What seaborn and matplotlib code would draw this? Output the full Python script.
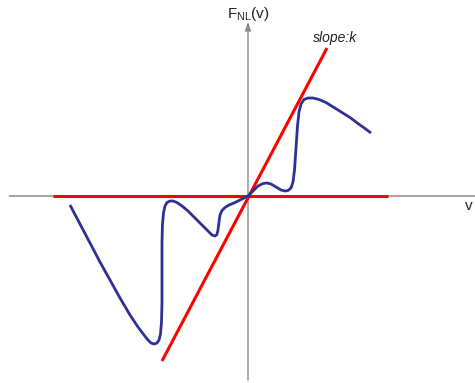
import matplotlib
matplotlib.use("Agg")
import matplotlib.pyplot as plt
import seaborn as sns
import pandas as pd

sns.set_style("white")
plt.rcParams["font.family"] = ["Liberation Sans", "DejaVu Sans"]
plt.rcParams["mathtext.fontset"] = "custom"
plt.rcParams["mathtext.rm"] = "Liberation Sans"

# Nonlinear characteristic F_NL(v)
curve_v = [-1.78, -1.68, -1.58, -1.48, -1.38, -1.28, -1.18, -1.10, -1.04, -1.00,
           -0.97, -0.94, -0.91, -0.89, -0.875, -0.865, -0.86, -0.86, -0.86, -0.855,
           -0.845, -0.83, -0.81, -0.78, -0.75, -0.71, -0.66, -0.60, -0.53, -0.46,
           -0.40, -0.36, -0.33, -0.31, -0.30, -0.29, -0.28, -0.26, -0.23, -0.19,
           -0.14, -0.08, 0.00, 0.05, 0.10, 0.15, 0.19, 0.23, 0.28, 0.33,
           0.37, 0.40, 0.43, 0.45, 0.465, 0.48, 0.495, 0.51, 0.53, 0.56,
           0.60, 0.65, 0.71, 0.78, 0.86, 0.94, 1.02, 1.10, 1.17, 1.23]
curve_f = [-0.09, -0.28, -0.47, -0.66, -0.84, -1.02, -1.19, -1.31, -1.39, -1.44,
           -1.47, -1.48, -1.47, -1.44, -1.38, -1.26, -1.06, -0.76, -0.46, -0.28,
           -0.17, -0.10, -0.065, -0.05, -0.05, -0.065, -0.10, -0.15, -0.22, -0.29,
           -0.35, -0.39, -0.40, -0.385, -0.34, -0.26, -0.19, -0.145, -0.115, -0.09,
           -0.07, -0.04, 0.00, 0.05, 0.10, 0.125, 0.13, 0.12, 0.09, 0.06,
           0.05, 0.055, 0.08, 0.14, 0.26, 0.48, 0.70, 0.84, 0.92, 0.965,
           0.98, 0.98, 0.965, 0.935, 0.885, 0.835, 0.785, 0.725, 0.675, 0.63]

# Zero line and linear line of slope k
zero_v = [-1.95, 1.40]
zero_f = [0.0, 0.0]
slope_v = [-0.86, 0.79]
slope_f = [-1.65, 1.48]

fig = plt.figure(figsize=(4.75, 3.83), dpi=100)
ax = fig.add_axes([0, 0, 1, 1])
ax.set_xlim(-2.48, 2.27)
ax.set_ylim(-1.87, 1.96)
ax.axis("off")

grey = "#8c8c8c"
# coordinate axes
ax.plot([-2.39, 2.27], [0, 0], color=grey, lw=1.1, zorder=1)
ax.annotate("", xy=(0, 1.74), xytext=(0, -1.84),
            arrowprops=dict(arrowstyle="-|>,head_length=0.5,head_width=0.18",
                            color=grey, lw=1.0, shrinkA=0, shrinkB=0), zorder=1)

red = "#ff0000"
sns.lineplot(x=zero_v, y=zero_f, color=red, lw=2.2, ax=ax, sort=False, estimator=None)
sns.lineplot(x=slope_v, y=slope_f, color=red, lw=2.2, ax=ax, sort=False, estimator=None)

df = pd.DataFrame({"v": curve_v, "F": curve_f})
sns.lineplot(data=df, x="v", y="F", color="#2e3192", lw=2.0, ax=ax,
             sort=False, estimator=None)
for ln in ax.lines:
    ln.set_solid_joinstyle("round")
    ln.set_solid_capstyle("butt")

ax.text(0, 1.82, r"F$_{\mathrm{NL}}$(v)", ha="center", va="center",
        fontsize=11, color="#222222")
ax.text(0.65, 1.58, "slope:k", ha="left", va="center", fontsize=10,
        style="italic", color="#222222")
ax.text(2.17, -0.10, "v", ha="left", va="center", fontsize=11, color="#222222")

fig.savefig("out.png", dpi=100)
